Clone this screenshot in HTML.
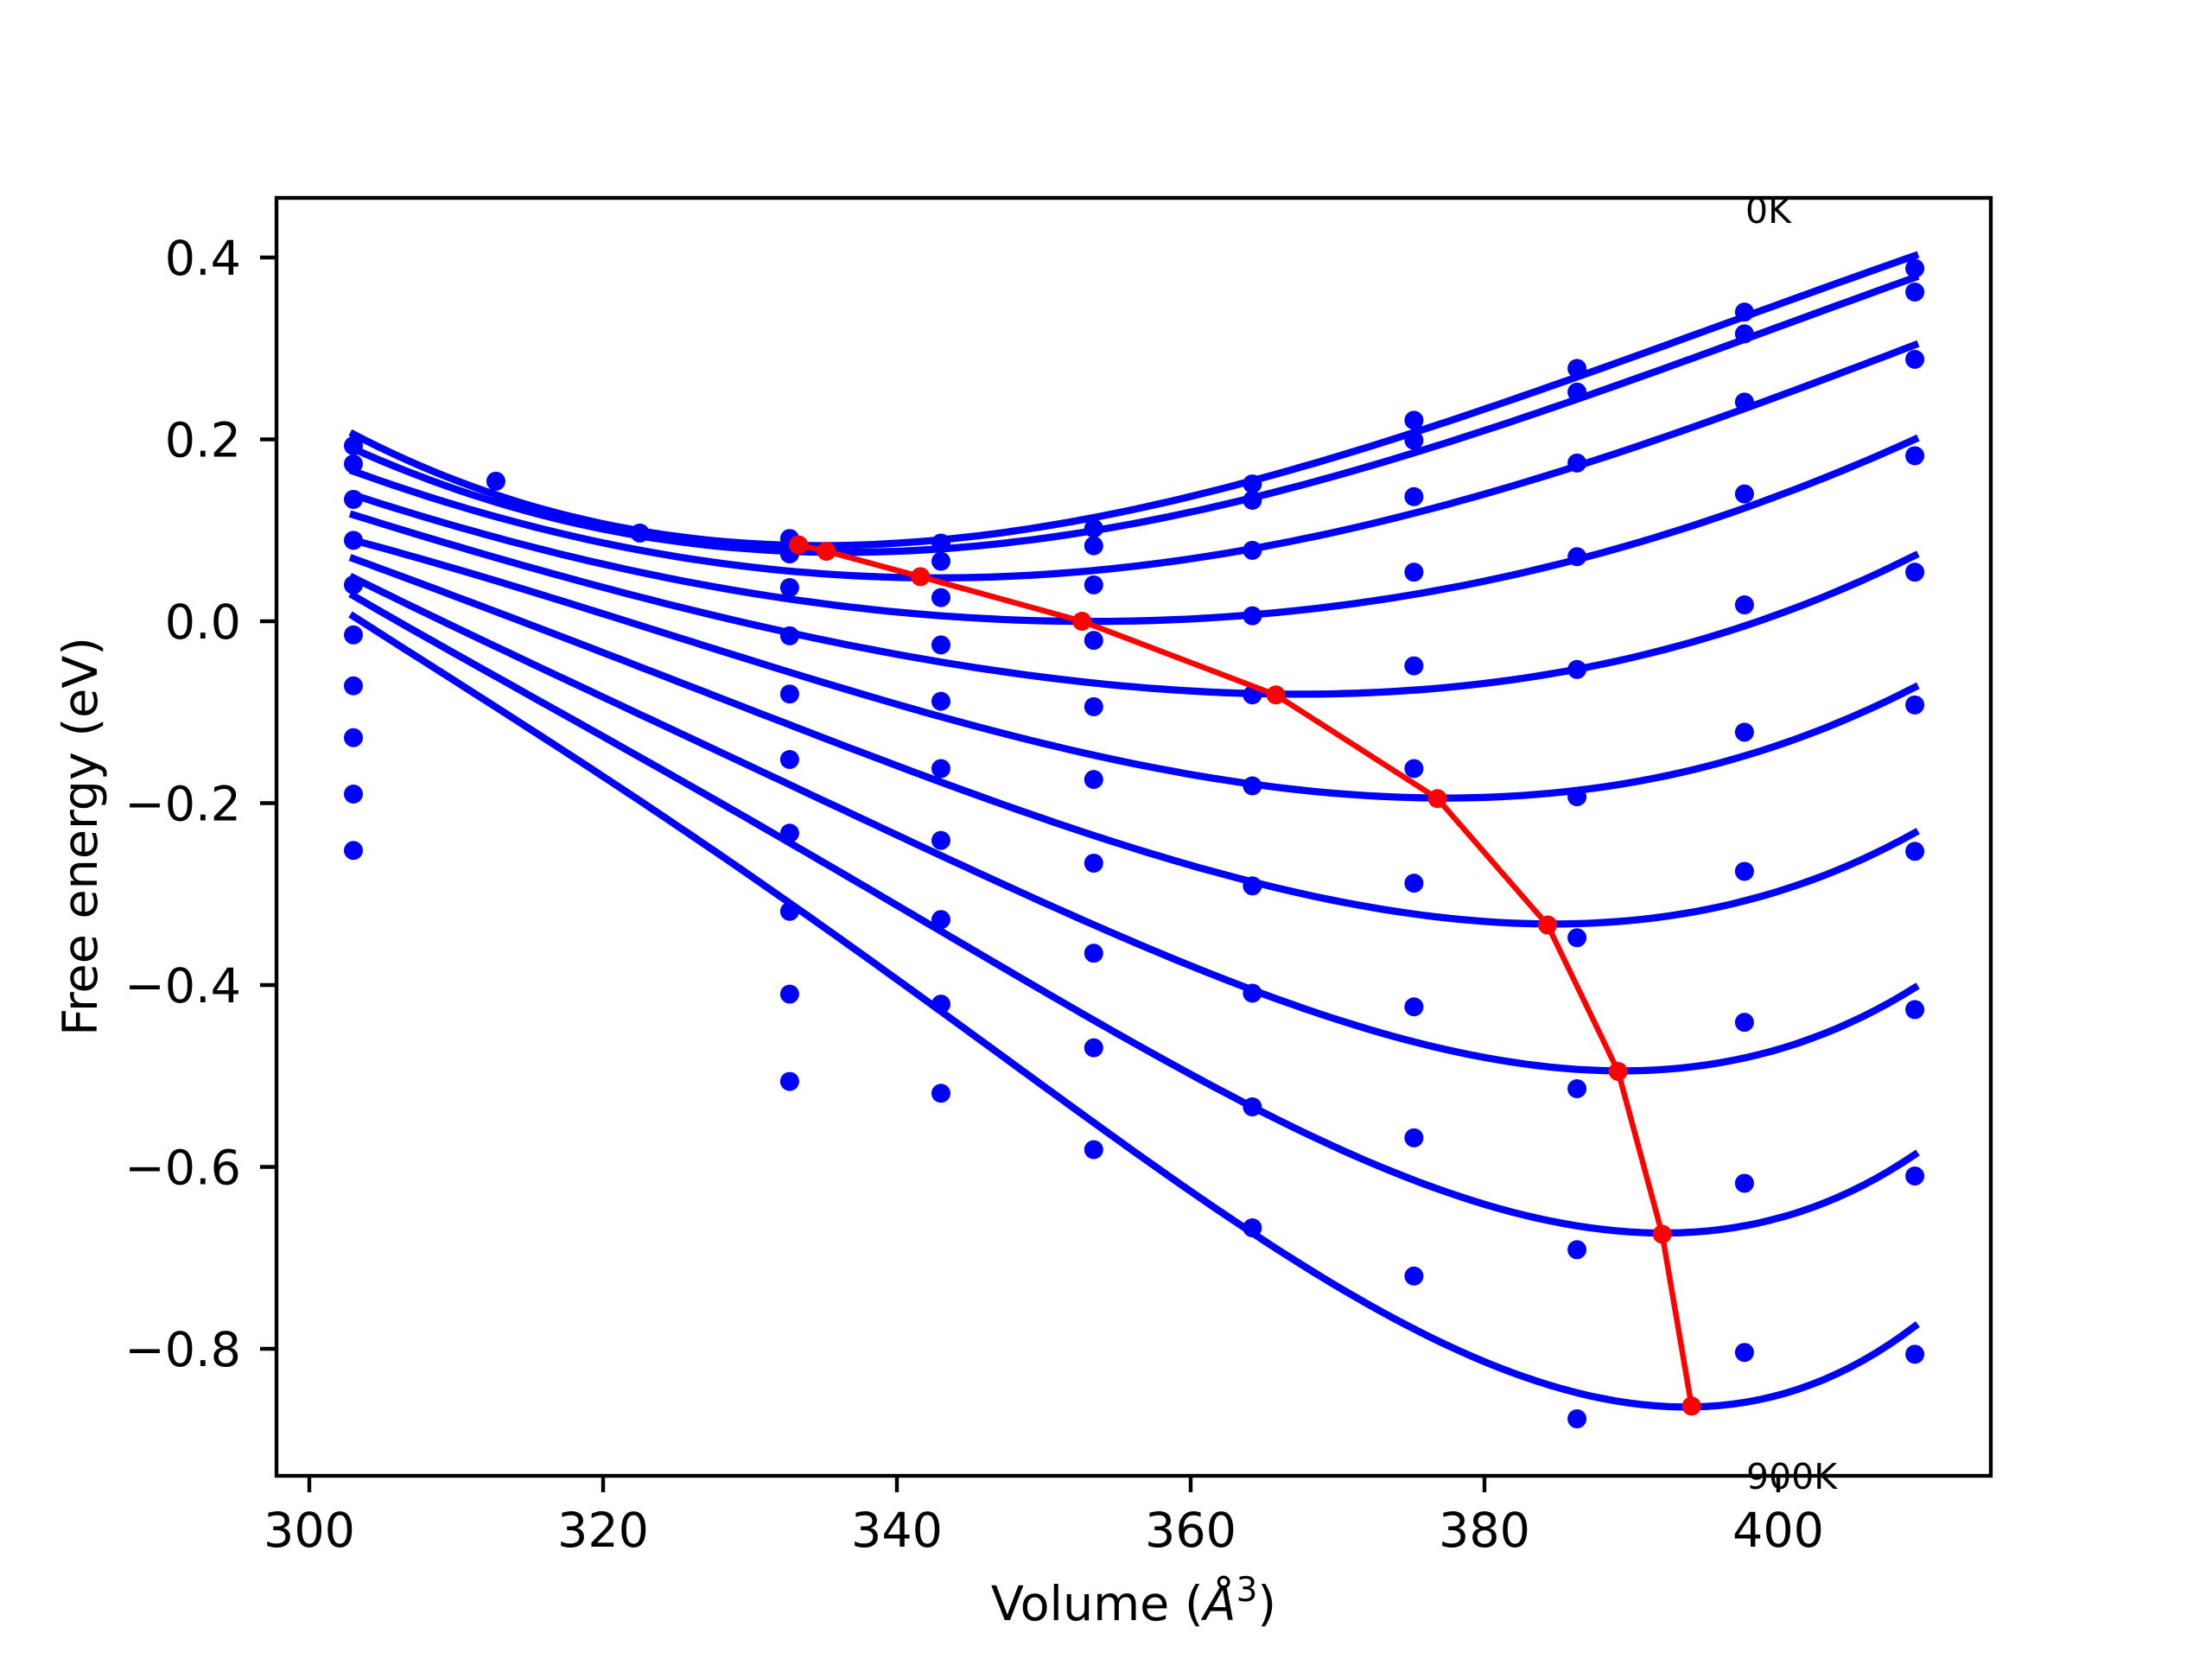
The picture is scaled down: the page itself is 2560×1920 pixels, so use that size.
<!DOCTYPE html>
<html><head><meta charset="utf-8"><style>
html,body{margin:0;padding:0;background:#fff;}
svg{display:block;font-family:"DejaVu Sans","Liberation Sans",sans-serif;}
</style></head><body>
<svg id="chart" width="2560" height="1920" viewBox="0 0 2560 1920" xmlns="http://www.w3.org/2000/svg">
<rect x="0" y="0" width="2560" height="1920" fill="#fff"/>
<g id="plot"></g>
<g id="axes"></g>
</svg>
<script>
// ---- data ----
const xTicks = [300, 320, 340, 360, 380, 400];
const yTicks = [0.4, 0.2, 0.0, -0.2, -0.4, -0.6, -0.8];
const yTickLabels = ["0.4", "0.2", "0.0", "\u22120.2", "\u22120.4", "\u22120.6", "\u22120.8"];
const temperatures = ["0K","100K","200K","300K","400K","500K","600K","700K","800K","900K"];
// sampled fitted curves
const curveV = [303, 320, 332.7, 343, 353.5, 364.2, 375.1, 386.2, 397.7, 409.3];
const curve0 = [0.206, 0.103, 0.086, 0.092, 0.110, 0.153, 0.209, 0.269, 0.334, 0.402];
const curve1 = [0.190, 0.099, 0.076, 0.079, 0.100, 0.133, 0.186, 0.244, 0.310, 0.378];
const curve2 = [0.165, 0.086, 0.054, 0.047, 0.052, 0.079, 0.122, 0.169, 0.233, 0.304];
const curve3 = [0.139, 0.063, 0.023, 0.008, -0.001, 0.006, 0.030, 0.067, 0.125, 0.200];
const curve4 = [0.117, 0.039, -0.019, -0.041, -0.062, -0.082, -0.076, -0.053, -0.003, 0.072];
const curve5 = [0.089, 0.013, -0.067, -0.100, -0.142, -0.181, -0.194, -0.189, -0.143, -0.073];
const curve6 = [0.069, -0.035, -0.118, -0.170, -0.236, -0.291, -0.318, -0.333, -0.303, -0.233];
const curve7 = [0.048, -0.085, -0.179, -0.255, -0.336, -0.409, -0.457, -0.494, -0.478, -0.403];
const curve8 = [0.028, -0.128, -0.239, -0.342, -0.445, -0.535, -0.606, -0.664, -0.665, -0.586];
const curve9 = [0.006, -0.176, -0.309, -0.422, -0.555, -0.668, -0.790, -0.845, -0.857, -0.776];
const curves = [curve0, curve1, curve2, curve3, curve4, curve5, curve6, curve7, curve8, curve9];
// minima (red line)
const minV = [333.3, 335.2, 341.6, 352.6, 365.8, 376.8, 384.3, 389.1, 392.1, 394.1];
const minE = [0.084, 0.077, 0.049, 0.000, -0.081, -0.195, -0.334, -0.495, -0.674, -0.863];
// scattered computed points, by volume column
const dotColV = [303, 312.7, 322.5, 332.7, 343, 353.4, 364.2, 375.2, 386.3, 397.7, 409.3];
const dots303 = [0.193, 0.173, 0.134, 0.089, 0.040, -0.015, -0.071, -0.128, -0.190, -0.252];
const dots312 = [0.154];
const dots322 = [0.097];
const dots332 = [0.091, 0.074, 0.037, -0.016, -0.080, -0.152, -0.233, -0.319, -0.410, -0.506];
const dots343 = [0.086, 0.066, 0.026, -0.026, -0.088, -0.162, -0.241, -0.328, -0.421, -0.519];
const dots353 = [0.102, 0.083, 0.040, -0.021, -0.094, -0.174, -0.266, -0.365, -0.469, -0.581];
const dots364 = [0.151, 0.133, 0.078, 0.006, -0.081, -0.181, -0.291, -0.409, -0.534, -0.667];
const dots375 = [0.221, 0.199, 0.137, 0.054, -0.049, -0.162, -0.288, -0.424, -0.568, -0.720];
const dots386 = [0.278, 0.252, 0.174, 0.071, -0.053, -0.193, -0.348, -0.514, -0.691, -0.877];
const dots397 = [0.340, 0.316, 0.241, 0.140, 0.018, -0.122, -0.275, -0.441, -0.618, -0.804];
const dots409 = [0.388, 0.362, 0.288, 0.182, 0.054, -0.092, -0.253, -0.427, -0.610, -0.806];
const dotCols = [dots303, dots312, dots322, dots332, dots343, dots353, dots364, dots375, dots386, dots397, dots409];

// ---- axes mapping ----
const L = 320, R = 2304, T = 229, B = 1708;
const X = v => 358 + (v - 300) * 17;
const Y = e => 719 - e * 1052.5;
const NS = "http://www.w3.org/2000/svg";
const plot = document.getElementById('plot');
const axes = document.getElementById('axes');
function mk(tag, attrs, parent) {
  const el = document.createElementNS(NS, tag);
  for (const k in attrs) el.setAttribute(k, attrs[k]);
  parent.appendChild(el);
  return el;
}
// weighted least-squares quartic fit (smooths reading noise)
function fitPoly(xs, ys, ws, n) {
  const A = [], b = [];
  for (let i = 0; i < n; i++) { A.push(new Array(n).fill(0)); b.push(0); }
  const pw = t => { const p = [1]; for (let i = 1; i < n; i++) p.push(p[i - 1] * t); return p; };
  xs.forEach((x, k) => {
    const p = pw((x - 356) / 53);
    for (let i = 0; i < n; i++) { b[i] += ws[k] * p[i] * ys[k]; for (let j = 0; j < n; j++) A[i][j] += ws[k] * p[i] * p[j]; }
  });
  for (let i = 0; i < n; i++) {
    let m = i; for (let r = i + 1; r < n; r++) if (Math.abs(A[r][i]) > Math.abs(A[m][i])) m = r;
    [A[i], A[m]] = [A[m], A[i]]; [b[i], b[m]] = [b[m], b[i]];
    for (let r = 0; r < n; r++) if (r !== i) { const f = A[r][i] / A[i][i]; for (let c = i; c < n; c++) A[r][c] -= f * A[i][c]; b[r] -= f * b[i]; }
  }
  const c = b.map((v, i) => v / A[i][i]);
  return x => { const p = pw((x - 356) / 53); let s = 0; for (let i = 0; i < n; i++) s += c[i] * p[i]; return s; };
}

// curves
curves.forEach((c, i) => {
  const xs = curveV.concat([minV[i]]);
  const ys = c.concat([minE[i]]);
  const ws = curveV.map((v, j) => (j === 0 || j === curveV.length - 1) ? 3 : 1).concat([4]);
  const f = fitPoly(xs, ys, ws, 5);
  const v0 = curveV[0], v1 = curveV[curveV.length - 1];
  let d = '';
  for (let k = 0; k <= 120; k++) {
    const v = v0 + (v1 - v0) * k / 120;
    d += (k ? ' L' : 'M') + X(v).toFixed(1) + ',' + Y(f(v)).toFixed(1);
  }
  const p = mk('path', {d: d, fill: 'none', stroke: '#0000ff', 'stroke-width': 8.3, 'stroke-linecap': 'square', 'stroke-linejoin': 'round'}, plot);
  
  
});
// dots
dotCols.forEach((col, ci) => {
  col.forEach((e) => {
    const c = mk('circle', {cx: X(dotColV[ci]), cy: Y(e), r: 11, fill: '#0000ff'}, plot);
    
    
  });
});
// red minima line
const red = mk('polyline', {points: minV.map((v, i) => X(v) + ',' + Y(minE[i])).join(' '), fill: 'none', stroke: '#ff0000', 'stroke-width': 6.5, 'stroke-linejoin': 'round'}, plot);


minV.forEach((v, i) => {
  const c = mk('circle', {cx: X(v), cy: Y(minE[i]), r: 11, fill: '#ff0000'}, plot);
  
  
});

// frame
const frame = mk('rect', {x: L, y: T, width: R - L, height: B - T, fill: 'none', stroke: '#000', 'stroke-width': 4.4}, axes);


// x ticks
xTicks.forEach(t => {
  const ln = mk('line', {x1: X(t), x2: X(t), y1: B, y2: B + 19, stroke: '#000', 'stroke-width': 4.4}, axes);
  
  
  const tx = mk('text', {x: X(t), y: 1790, 'font-size': 55.5, 'text-anchor': 'middle', fill: '#000'}, axes);
  tx.textContent = String(t);
  
  
});
// y ticks
yTicks.forEach((t, i) => {
  const ln = mk('line', {x1: L - 19, x2: L, y1: Y(t), y2: Y(t), stroke: '#000', 'stroke-width': 4.4}, axes);
  
  
  const tx = mk('text', {x: 279, y: Y(t) + 20, 'font-size': 55.5, 'text-anchor': 'end', fill: '#000'}, axes);
  tx.textContent = yTickLabels[i];
  
  
});
</script>
<svg style="position:absolute;left:0;top:0" width="2560" height="1920" xmlns="http://www.w3.org/2000/svg" font-family="DejaVu Sans, Liberation Sans, sans-serif">
<text x="1312" y="1875" font-size="55.5" text-anchor="middle" fill="#000">Volume (<tspan font-style="italic">Å</tspan><tspan font-size="39" dy="-22">3</tspan><tspan dy="22">)</tspan></text>
<text transform="translate(112,968) rotate(-90)" x="0" y="0" font-size="55.5" text-anchor="middle" fill="#000">Free energy (eV)</text>
<text x="2020" y="258" font-size="41" fill="#000">0K</text>
<text x="2021" y="1723" font-size="41" fill="#000">900K</text>
</svg>
</body></html>
